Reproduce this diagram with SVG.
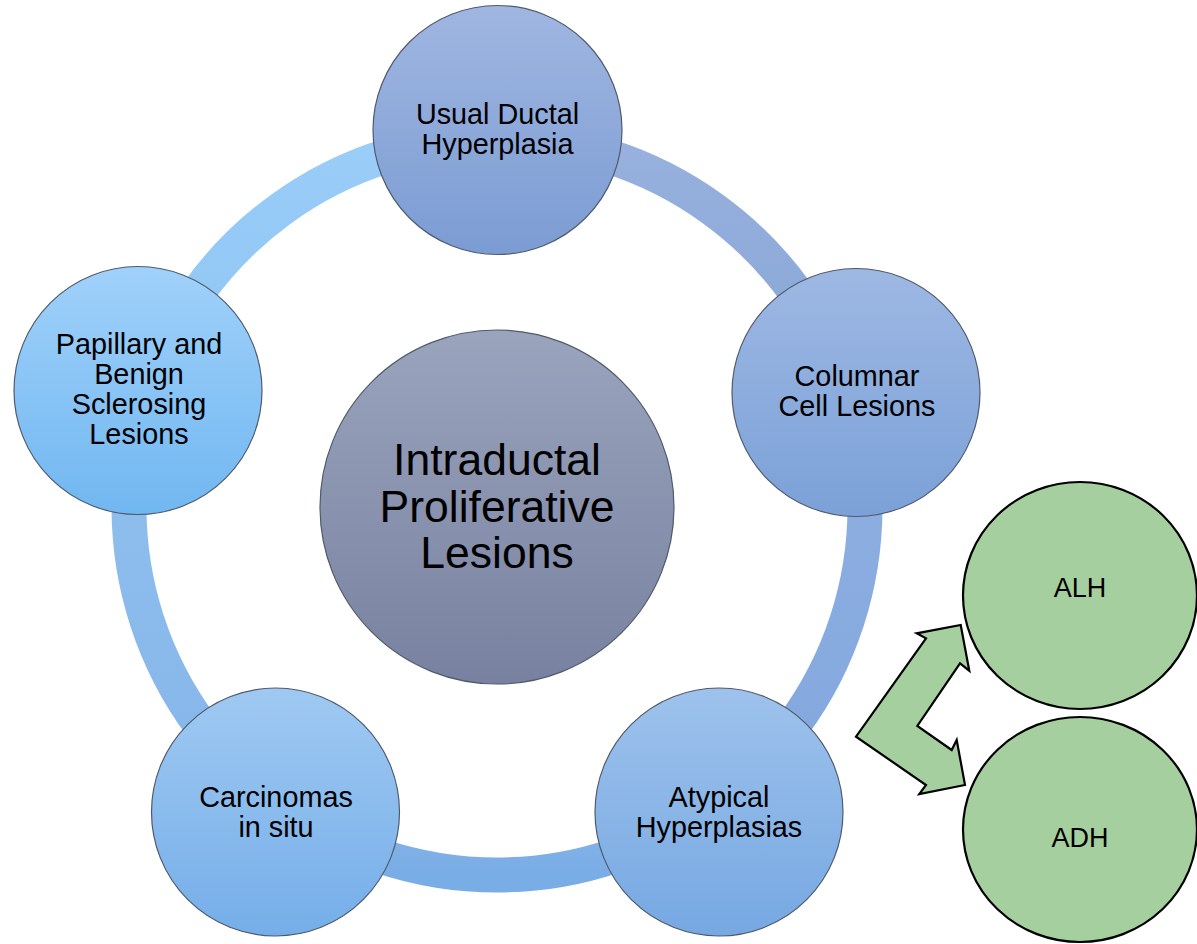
<svg xmlns="http://www.w3.org/2000/svg" width="1197" height="944" viewBox="0 0 1197 944">
  <style>
    .ring { fill: none; stroke-width: 35; }
    .node { stroke: #4f5b6b; stroke-width: 1.2; }
    .lbl { font-family: "Liberation Sans", Arial, sans-serif; font-size: 28.8px; fill: #000; text-anchor: middle; }
    .big { font-family: "Liberation Sans", Arial, sans-serif; font-size: 44.5px; fill: #000; text-anchor: middle; }
    .green { fill: #a6cf9f; stroke: #000; stroke-width: 2.2; }
    .glbl { font-family: "Liberation Sans", Arial, sans-serif; font-size: 27px; fill: #000; text-anchor: middle; }
  </style>
  <defs>
    <linearGradient id="gA" x1="0" y1="0" x2="0" y2="1"><stop offset="0" stop-color="#98b1de"/><stop offset="1" stop-color="#87a5d6"/></linearGradient>
    <linearGradient id="gB" x1="0" y1="0" x2="0" y2="1"><stop offset="0" stop-color="#90b0e1"/><stop offset="1" stop-color="#82a7de"/></linearGradient>
    <linearGradient id="gC" x1="0" y1="0" x2="0" y2="1"><stop offset="0" stop-color="#8bb4e6"/><stop offset="1" stop-color="#79ade6"/></linearGradient>
    <linearGradient id="gD" x1="0" y1="0" x2="0" y2="1"><stop offset="0" stop-color="#90c0ee"/><stop offset="1" stop-color="#86b6ea"/></linearGradient>
    <linearGradient id="gE" x1="0" y1="0" x2="0" y2="1"><stop offset="0" stop-color="#9acdf8"/><stop offset="1" stop-color="#8fc5f3"/></linearGradient>
    <linearGradient id="nUsual" x1="0" y1="0" x2="0" y2="1"><stop offset="0" stop-color="#a0b6e1"/><stop offset="1" stop-color="#7b9cd3"/></linearGradient>
    <linearGradient id="nCol" x1="0" y1="0" x2="0" y2="1"><stop offset="0" stop-color="#9eb8e3"/><stop offset="1" stop-color="#7ba1d8"/></linearGradient>
    <linearGradient id="nAty" x1="0" y1="0" x2="0" y2="1"><stop offset="0" stop-color="#9ec2ec"/><stop offset="1" stop-color="#76a8e2"/></linearGradient>
    <linearGradient id="nCar" x1="0" y1="0" x2="0" y2="1"><stop offset="0" stop-color="#9fc9f2"/><stop offset="1" stop-color="#75aee9"/></linearGradient>
    <linearGradient id="nPap" x1="0" y1="0" x2="0" y2="1"><stop offset="0" stop-color="#a0d1fa"/><stop offset="1" stop-color="#71b7f1"/></linearGradient>
    <linearGradient id="nCen" x1="0" y1="0" x2="0" y2="1"><stop offset="0" stop-color="#9ba4bd"/><stop offset="1" stop-color="#78819f"/></linearGradient>
  </defs>

  <g id="connectors">
    <path class="ring" stroke="url(#gA)" d="M497,139 A368,368 0 0 1 847,393.3"/>
    <path class="ring" stroke="url(#gB)" d="M847,393.3 A368,368 0 0 1 713.3,804.7"/>
    <path class="ring" stroke="url(#gC)" d="M713.3,804.7 A368,368 0 0 1 280.7,804.7"/>
    <path class="ring" stroke="url(#gD)" d="M280.7,804.7 A368,368 0 0 1 147,393.3"/>
    <path class="ring" stroke="url(#gE)" d="M147,393.3 A368,368 0 0 1 497,139"/>
    <polygon id="double-arrow" class="green" stroke-linejoin="miter" points="960.7,625 969.3,670.7 960,663.3 917.3,726 951.7,750 956.7,740 965,785 919.3,794 926,785 856,736.7 926,638.3 916.7,633.3"/>
  </g>

  <g id="center">
    <circle class="node" cx="497" cy="507" r="177" fill="url(#nCen)"/>
    <text class="big" x="497" y="475">Intraductal</text>
    <text class="big" x="497" y="522">Proliferative</text>
    <text class="big" x="497" y="568">Lesions</text>
  </g>

  <g id="usual">
    <circle class="node" cx="497.5" cy="130" r="124.5" fill="url(#nUsual)"/>
    <text class="lbl" x="497.5" y="124">Usual Ductal</text>
    <text class="lbl" x="497.5" y="154">Hyperplasia</text>
  </g>

  <g id="columnar">
    <circle class="node" cx="856" cy="392.5" r="124" fill="url(#nCol)"/>
    <text class="lbl" x="857" y="386">Columnar</text>
    <text class="lbl" x="857" y="416">Cell Lesions</text>
  </g>

  <g id="atypical">
    <circle class="node" cx="719" cy="812" r="124" fill="url(#nAty)"/>
    <text class="lbl" x="719" y="807">Atypical</text>
    <text class="lbl" x="719" y="837">Hyperplasias</text>
  </g>

  <g id="carcinomas">
    <circle class="node" cx="275.5" cy="812" r="124" fill="url(#nCar)"/>
    <text class="lbl" x="276" y="807">Carcinomas</text>
    <text class="lbl" x="276" y="837">in situ</text>
  </g>

  <g id="papillary">
    <circle class="node" cx="138" cy="390.5" r="124" fill="url(#nPap)"/>
    <text class="lbl" x="139" y="354">Papillary and</text>
    <text class="lbl" x="139" y="384">Benign</text>
    <text class="lbl" x="139" y="414">Sclerosing</text>
    <text class="lbl" x="139" y="444">Lesions</text>
  </g>

  <g id="alh">
    <ellipse class="green" cx="1080" cy="595.5" rx="117" ry="113.5"/>
    <text class="glbl" x="1080" y="597">ALH</text>
  </g>

  <g id="adh">
    <ellipse class="green" cx="1080" cy="829.5" rx="117" ry="112.5"/>
    <text class="glbl" x="1080" y="847">ADH</text>
  </g>
</svg>
